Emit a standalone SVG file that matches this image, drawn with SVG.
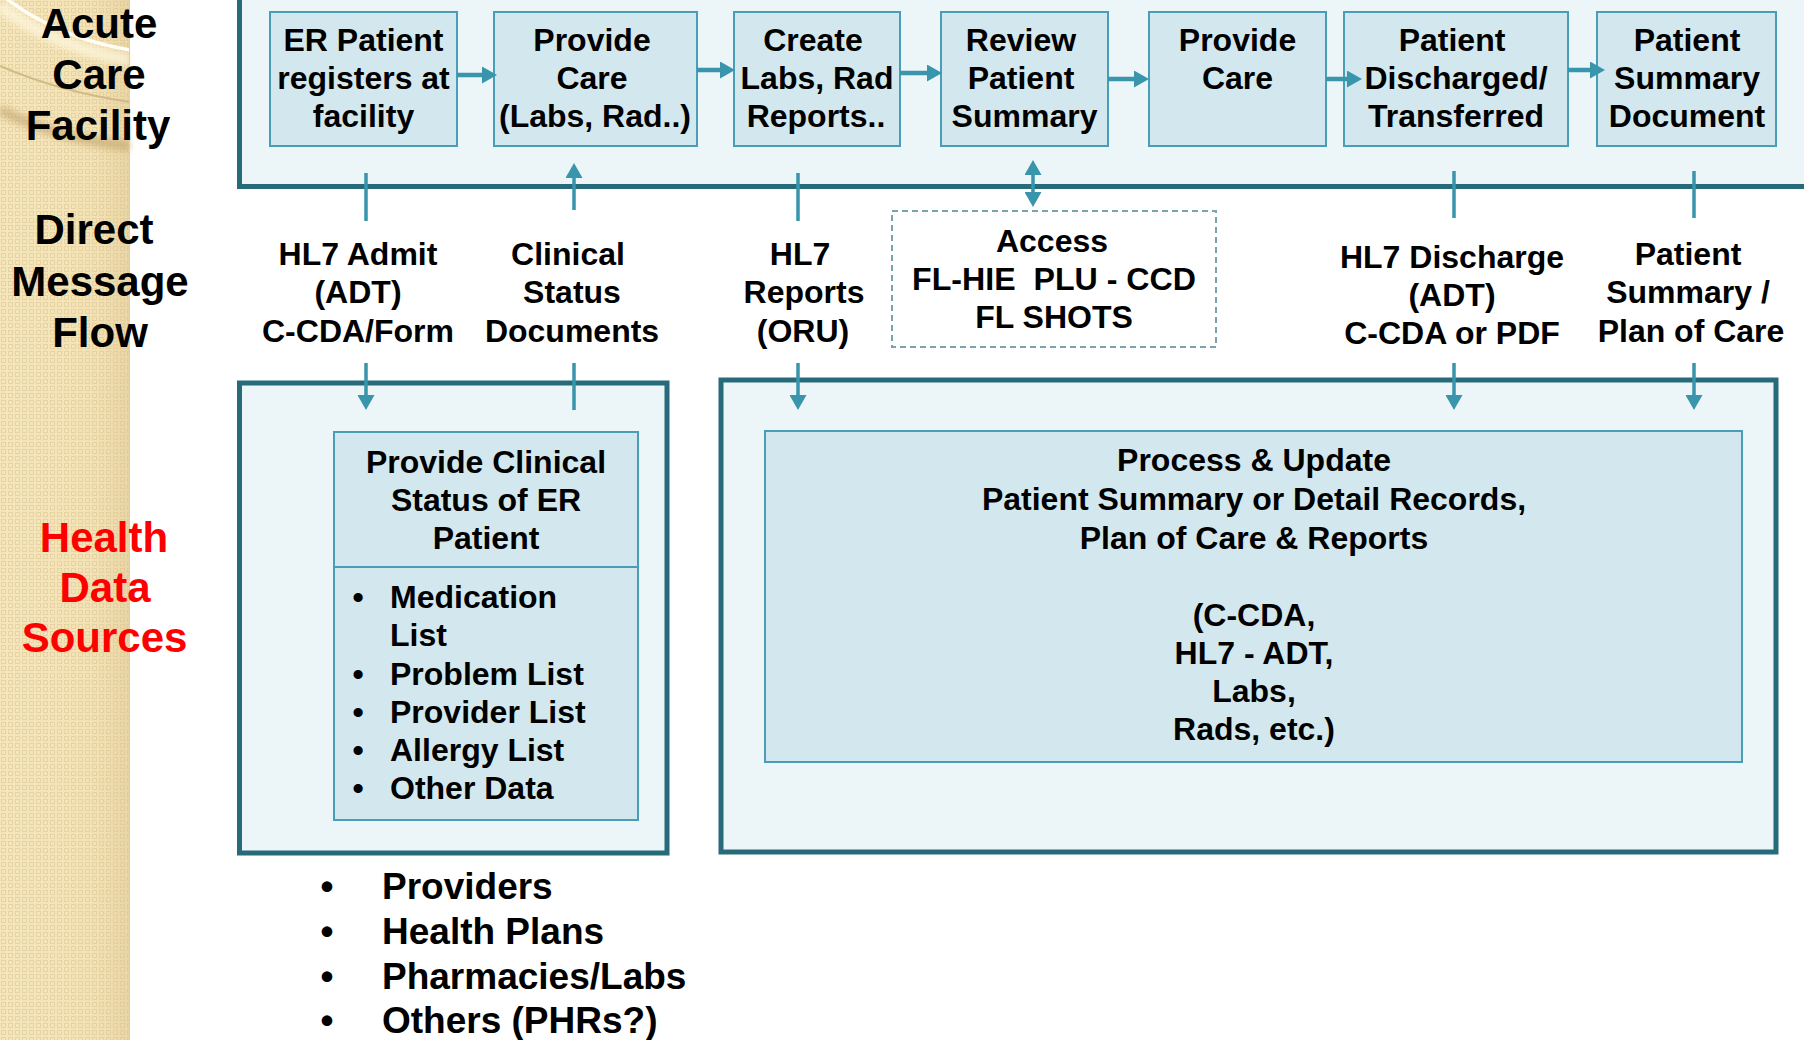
<svg xmlns="http://www.w3.org/2000/svg" width="1804" height="1040" viewBox="0 0 1804 1040">
<defs>
  <pattern id="chk" x="0" y="0" width="7" height="7" patternUnits="userSpaceOnUse">
    <rect width="7" height="7" fill="#f5e5ba"/>
    <rect x="1.5" y="1.5" width="4" height="4" fill="none" stroke="#e6d3a3" stroke-width="1"/>
  </pattern>
  <linearGradient id="sideShade" x1="0" y1="0" x2="1" y2="0">
    <stop offset="0" stop-color="#f3e0ae" stop-opacity="0"/>
    <stop offset="0.7" stop-color="#e8d29c" stop-opacity="0.15"/>
    <stop offset="1" stop-color="#d9c08a" stop-opacity="0.45"/>
  </linearGradient>
  <filter id="soft" x="-20%" y="-50%" width="140%" height="200%">
    <feGaussianBlur stdDeviation="3"/>
  </filter>
  <marker id="ah" markerUnits="userSpaceOnUse" markerWidth="16" markerHeight="17" refX="10" refY="8.5" orient="auto-start-reverse">
    <path d="M0,0 L15,8.5 L0,17 Z" fill="#3895ab"/>
  </marker>
  <style>
    text { font-family: "Liberation Sans", Arial, Helvetica, sans-serif; font-weight: bold; fill: #000; }
    .t32 { font-size: 32px; }
    .side { font-size: 42px; text-anchor: middle; }
    .red { fill: #ff0000; }
    .mid { text-anchor: middle; }
    .big { font-size: 37px; }
    .cont { fill: #ecf5f7; stroke: #276a7a; stroke-width: 5; }
    .box { fill: #d3e8ee; stroke: #4a9db6; stroke-width: 2; }
    .dash { fill: #ffffff; stroke: #7aa4ad; stroke-width: 2; stroke-dasharray: 6 4; }
    .harr { stroke: #3895ab; stroke-width: 4.5; fill: none; marker-end: url(#ah); }
    .vl { stroke: #3895ab; stroke-width: 3.5; fill: none; }
    .va { stroke: #3895ab; stroke-width: 3.5; fill: none; marker-end: url(#ah); }
  </style>
</defs>

<rect width="1804" height="1040" fill="#ffffff"/>

<!-- sidebar -->
<g id="sidebar">
  <rect x="0" y="0" width="130" height="1040" fill="url(#chk)"/>
  <rect x="0" y="0" width="130" height="1040" fill="url(#sideShade)"/>
  <path d="M0,110 Q60,140 130,146" fill="none" stroke="#bb9e66" stroke-width="10" opacity="0.55" filter="url(#soft)"/>
  <path d="M0,6 Q55,48 130,60" fill="none" stroke="#fdf6dc" stroke-width="12" opacity="0.8" filter="url(#soft)"/>
  <path d="M0,66 Q60,92 130,102" fill="none" stroke="#cdb682" stroke-width="2" opacity="0.9"/>
  <path d="M4,-3 Q58,38 130,50" fill="none" stroke="#fffef6" stroke-width="3.5"/>
  <line x1="129.5" y1="0" x2="129.5" y2="1040" stroke="#d8cfbd" stroke-width="1"/>
  <text class="side" x="99" y="38">Acute</text>
  <text class="side" x="99" y="89">Care</text>
  <text class="side" x="98" y="140">Facility</text>
  <text class="side" x="94" y="244">Direct</text>
  <text class="side" x="100" y="296">Message</text>
  <text class="side" x="100" y="347">Flow</text>
  <text class="side red" x="104" y="552">Health</text>
  <text class="side red" x="105" y="602">Data</text>
  <text class="side red" x="104.5" y="652">Sources</text>
</g>

<!-- containers -->
<g id="acute-care-container">
  <rect class="cont" x="239.5" y="-20" width="1570" height="206.5"/>
</g>
<g id="health-data-left-container">
  <rect class="cont" x="239.5" y="383" width="427.5" height="470"/>
</g>
<g id="health-data-right-container">
  <rect class="cont" x="721" y="380" width="1055" height="472"/>
</g>

<!-- top process boxes -->
<g id="n-er-register">
  <rect class="box" x="270" y="12" width="187" height="134"/>
  <text class="t32 mid" x="363.5" y="51">ER Patient</text>
  <text class="t32 mid" x="363.5" y="89">registers at</text>
  <text class="t32 mid" x="363.5" y="127">facility</text>
</g>
<g id="n-provide-care-1">
  <rect class="box" x="494" y="12" width="203" height="134"/>
  <text class="t32 mid" x="592" y="51">Provide</text>
  <text class="t32 mid" x="592" y="89">Care</text>
  <text class="t32 mid" x="595" y="127">(Labs, Rad..)</text>
</g>
<g id="n-create-labs">
  <rect class="box" x="734" y="12" width="166" height="134"/>
  <text class="t32 mid" x="813" y="51">Create</text>
  <text class="t32 mid" x="817" y="89">Labs, Rad</text>
  <text class="t32 mid" x="816" y="127">Reports..</text>
</g>
<g id="n-review-summary">
  <rect class="box" x="941" y="12" width="167" height="134"/>
  <text class="t32 mid" x="1021" y="51">Review</text>
  <text class="t32 mid" x="1021" y="89">Patient</text>
  <text class="t32 mid" x="1024.5" y="127">Summary</text>
</g>
<g id="n-provide-care-2">
  <rect class="box" x="1149" y="12" width="177" height="134"/>
  <text class="t32 mid" x="1237.5" y="51">Provide</text>
  <text class="t32 mid" x="1237.5" y="89">Care</text>
</g>
<g id="n-discharged">
  <rect class="box" x="1344" y="12" width="224" height="134"/>
  <text class="t32 mid" x="1452" y="51">Patient</text>
  <text class="t32 mid" x="1456" y="89">Discharged/</text>
  <text class="t32 mid" x="1456" y="127">Transferred</text>
</g>
<g id="n-summary-doc">
  <rect class="box" x="1597" y="12" width="179" height="134"/>
  <text class="t32 mid" x="1687" y="51">Patient</text>
  <text class="t32 mid" x="1687" y="89">Summary</text>
  <text class="t32 mid" x="1687" y="127">Document</text>
</g>

<!-- message labels -->
<g id="l-hl7-admit">
  <text class="t32 mid" x="358" y="265">HL7 Admit</text>
  <text class="t32 mid" x="358" y="303">(ADT)</text>
  <text class="t32 mid" x="358" y="342">C-CDA/Form</text>
</g>
<g id="l-clinical-status">
  <text class="t32 mid" x="568" y="265">Clinical</text>
  <text class="t32 mid" x="572" y="303">Status</text>
  <text class="t32 mid" x="572" y="342">Documents</text>
</g>
<g id="l-hl7-reports">
  <text class="t32 mid" x="800" y="265">HL7</text>
  <text class="t32 mid" x="804" y="303">Reports</text>
  <text class="t32 mid" x="803" y="342">(ORU)</text>
</g>
<g id="n-access-hie">
  <rect class="dash" x="892" y="211" width="324" height="136"/>
  <text class="t32 mid" x="1052" y="252">Access</text>
  <text class="t32 mid" x="1054" y="290" xml:space="preserve" textLength="284" lengthAdjust="spacingAndGlyphs">FL-HIE  PLU - CCD</text>
  <text class="t32 mid" x="1054" y="328">FL SHOTS</text>
</g>
<g id="l-hl7-discharge">
  <text class="t32 mid" x="1452" y="268">HL7 Discharge</text>
  <text class="t32 mid" x="1452" y="306">(ADT)</text>
  <text class="t32 mid" x="1452" y="344">C-CDA or PDF</text>
</g>
<g id="l-patient-summary">
  <text class="t32 mid" x="1688" y="265">Patient</text>
  <text class="t32 mid" x="1688" y="303">Summary /</text>
  <text class="t32 mid" x="1691" y="342">Plan of Care</text>
</g>

<!-- health data boxes -->
<g id="n-clinical-status-er">
  <rect class="box" x="334" y="432" width="304" height="388"/>
  <line x1="334" y1="567" x2="638" y2="567" stroke="#4a9db6" stroke-width="2"/>
  <text class="t32 mid" x="486" y="473">Provide Clinical</text>
  <text class="t32 mid" x="486" y="511">Status of ER</text>
  <text class="t32 mid" x="486" y="549">Patient</text>
  <text class="t32 mid" x="358" y="608">•</text>
  <text class="t32" x="390" y="608">Medication</text>
  <text class="t32" x="390" y="646">List</text>
  <text class="t32 mid" x="358" y="685">•</text>
  <text class="t32" x="390" y="685">Problem List</text>
  <text class="t32 mid" x="358" y="723">•</text>
  <text class="t32" x="390" y="723">Provider List</text>
  <text class="t32 mid" x="358" y="761">•</text>
  <text class="t32" x="390" y="761">Allergy List</text>
  <text class="t32 mid" x="358" y="799">•</text>
  <text class="t32" x="390" y="799">Other Data</text>
</g>
<g id="n-process-update">
  <rect class="box" x="765" y="431" width="977" height="331"/>
  <text class="t32 mid" x="1254" y="471">Process &amp; Update</text>
  <text class="t32 mid" x="1254" y="510">Patient Summary or Detail Records,</text>
  <text class="t32 mid" x="1254" y="549">Plan of Care &amp; Reports</text>
  <text class="t32 mid" x="1254" y="626">(C-CDA,</text>
  <text class="t32 mid" x="1254" y="664">HL7 - ADT,</text>
  <text class="t32 mid" x="1254" y="702">Labs,</text>
  <text class="t32 mid" x="1254" y="740">Rads, etc.)</text>
</g>
<g id="l-sources">
  <text class="big mid" x="327" y="899">•</text>
  <text class="big" x="382" y="899">Providers</text>
  <text class="big mid" x="327" y="944">•</text>
  <text class="big" x="382" y="944">Health Plans</text>
  <text class="big mid" x="327" y="989">•</text>
  <text class="big" x="382" y="989">Pharmacies/Labs</text>
  <text class="big mid" x="327" y="1033">•</text>
  <text class="big" x="382" y="1033">Others (PHRs?)</text>
</g>

<!-- connectors -->
<g id="connectors">
  <line class="harr" x1="457" y1="75" x2="492" y2="75"/>
  <line class="harr" x1="697" y1="70" x2="730" y2="70"/>
  <line class="harr" x1="900" y1="73" x2="937" y2="73"/>
  <line class="harr" x1="1108" y1="79" x2="1144" y2="79"/>
  <line class="harr" x1="1326" y1="79" x2="1357" y2="79"/>
  <line class="harr" x1="1568" y1="70" x2="1600" y2="70"/>

  <line class="vl" x1="366" y1="173" x2="366" y2="221"/>
  <line class="va" x1="366" y1="363" x2="366" y2="405"/>

  <line class="va" x1="574" y1="210" x2="574" y2="168"/>
  <line class="vl" x1="574" y1="363" x2="574" y2="410"/>

  <line class="vl" x1="798" y1="173" x2="798" y2="221"/>
  <line class="va" x1="798" y1="363" x2="798" y2="405"/>

  <line x1="1033" y1="165" x2="1033" y2="202" stroke="#3895ab" stroke-width="3.5" marker-start="url(#ah)" marker-end="url(#ah)"/>

  <line class="vl" x1="1454" y1="171" x2="1454" y2="218"/>
  <line class="va" x1="1454" y1="363" x2="1454" y2="405"/>

  <line class="vl" x1="1694" y1="171" x2="1694" y2="218"/>
  <line class="va" x1="1694" y1="363" x2="1694" y2="405"/>
</g>
</svg>
